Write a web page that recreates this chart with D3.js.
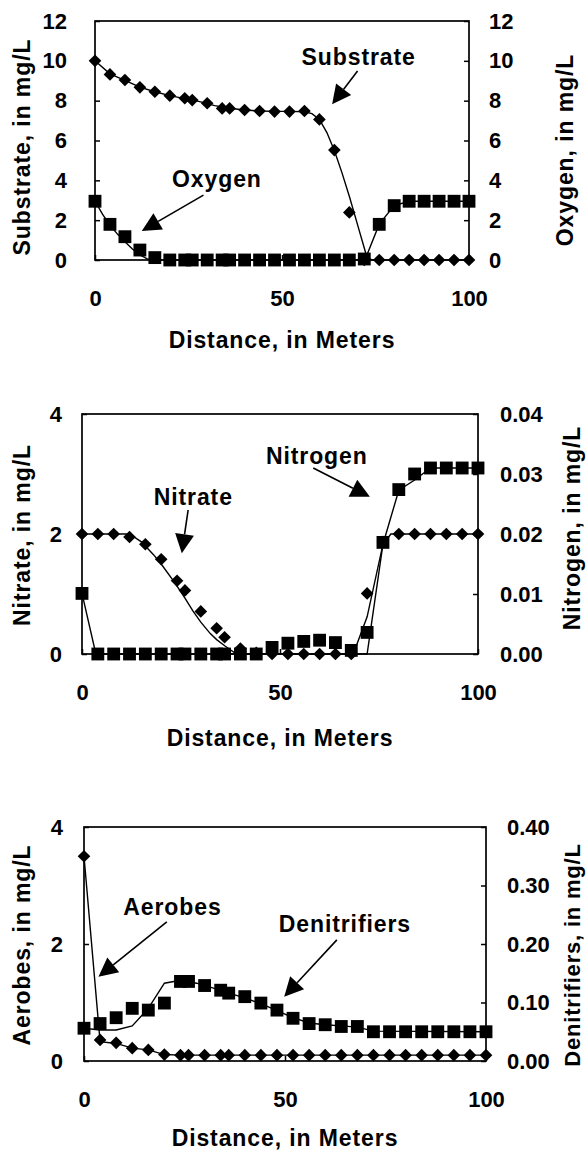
<!DOCTYPE html>
<html><head><meta charset="utf-8">
<script src="https://cdn.jsdelivr.net/npm/d3@7"></script>
<style>
body{margin:0;background:#fff}
svg{display:block;background:#fff}
text{font-family:"Liberation Sans",Arial,Helvetica,sans-serif;font-weight:bold;fill:#000}
</style>
</head><body>
<svg id="chart" width="587" height="1159"></svg>
<script>
// ---------- shared ----------
const distance = [0,4,8,12,16,20,24,26,30,34,36,40,44,48,52,56,60,64,68,72,76,80,84,88,92,96,100];
const xTicks = [0,50,100];
const xTitle = "Distance, in Meters";

// ---------- panel 1 : substrate / oxygen ----------
const substrateObs = [10,9.32,9.04,8.67,8.45,8.25,8.12,8.03,7.87,7.61,7.61,7.53,7.48,7.45,7.45,7.48,7.06,5.52,2.39,0,0,0,0,0,0,0,0];
const oxygenObs    = [2.95,1.79,1.17,0.5,0.12,0,0,0,0,0,0,0,0,0,0,0,0,0,0,0.05,1.79,2.73,2.95,2.95,2.95,2.95,2.95];
const substrateModelX = [0,4,8,12,16,20,24,28,32,36,40,44,48,52,56,58,60,62,64,66,68,70,72,72.6,74,100];
const substrateModelY = [10,9.35,9.02,8.68,8.45,8.25,8.1,7.95,7.75,7.62,7.53,7.48,7.46,7.46,7.44,7.35,7.06,6.4,5.5,4.4,3.2,1.9,0.6,0.2,0,0];
const oxygenModelX = [0,2,4,6,8,10,12,14,15,70,72.6,76,80,84,100];
const oxygenModelY = [2.95,2.3,1.75,1.3,0.92,0.55,0.25,0.06,0,0,0.2,1.8,2.73,2.95,2.95];
const p1LeftTicks = [0,2,4,6,8,10,12];
const p1RightTicks = [0,2,4,6,8,10,12];

// ---------- panel 2 : nitrate / nitrogen ----------
const nitrateObs  = [2,2,2,1.95,1.83,1.58,1.22,1.06,0.71,0.43,0.28,0.09,0.02,0,0,0,0,0,0,1.01,1.87,2,2,2,2,2,2];
const nitrogenObs = [0.0101,0,0,0,0,0,0,0,0,0,0,0,0,0.0011,0.0018,0.0021,0.0023,0.0019,0.0006,0.0036,0.0186,0.0274,0.030,0.031,0.031,0.031,0.031];
const nitrateModelX = [0,12,15,18,20,23.5,26,28,30,32.4,34,36.2,39,68.5,72,76,78,100];
const nitrateModelY = [2,2,1.87,1.66,1.5,1.18,0.93,0.72,0.53,0.34,0.24,0.13,0,0,0.62,1.83,2,2];
const nitrogenModelX = [0,3.5,72,76,80,84,88,100];
const nitrogenModelY = [0.0101,0,0,0.0183,0.0273,0.029,0.031,0.031];
const p2LeftTicks = [0,2,4];
const p2RightTicks = [0,0.01,0.02,0.03,0.04];

// ---------- panel 3 : aerobes / denitrifiers ----------
const aerobesObs = [3.5,0.36,0.31,0.22,0.19,0.11,0.1,0.1,0.1,0.1,0.1,0.1,0.1,0.1,0.1,0.1,0.1,0.1,0.1,0.1,0.1,0.1,0.1,0.1,0.1,0.1,0.1];
const denitrObs  = [0.056,0.064,0.074,0.090,0.087,0.099,0.136,0.136,0.129,0.121,0.116,0.110,0.099,0.087,0.073,0.064,0.062,0.059,0.059,0.050,0.050,0.050,0.050,0.050,0.050,0.050,0.050];
const aerobesModelX = [0,4,8,12,16,20,24,100];
const aerobesModelY = [3.5,0.33,0.3,0.22,0.19,0.11,0.1,0.1];
const denitrModelX = [0,4,8,12,16,20,24,28,32,36,40,44,48,52,56,60,64,68,72,100];
const denitrModelY = [0.056,0.053,0.053,0.06,0.09,0.133,0.138,0.133,0.125,0.116,0.108,0.098,0.086,0.074,0.065,0.062,0.06,0.058,0.051,0.05];
const p3LeftTicks = [0,2,4];
const p3RightTicks = [0,0.1,0.2,0.3,0.4];

// annotations (in data units of the left axis): label, text x, text y, arrow from, arrow to
const p1Notes = [
  {label:"Substrate", tx:70.5, ty:9.79, x1:70.2, y1:9.49, x2:63.4, y2:7.82},
  {label:"Oxygen",    tx:32.6, ty:3.68, x1:29.0, y1:3.26, x2:12.5, y2:1.46}
];
const p2Notes = [
  {label:"Nitrogen", tx:59.3, ty:3.16, x1:58.4, y1:3.10, x2:72.7, y2:2.62},
  {label:"Nitrate",  tx:28.1, ty:2.48, x1:26.8, y1:2.40, x2:25.2, y2:1.68}
];
const p3Notes = [
  {label:"Aerobes",      tx:22.0, ty:2.50, x1:20.6, y1:2.38, x2:3.6,  y2:1.44},
  {label:"Denitrifiers", tx:64.9, ty:2.21, x1:62.9, y1:2.07, x2:49.8, y2:1.10}
];

// ---------- drawing ----------
const svg = d3.select("#chart");

function drawPanel(cfg){
  const x = d3.scaleLinear().domain([0,100]).range([cfg.left, cfg.right]);
  const yL = d3.scaleLinear().domain(cfg.leftDomain).range([cfg.bottom, cfg.top]);
  const yR = d3.scaleLinear().domain(cfg.rightDomain).range([cfg.bottom, cfg.top]);
  const g = svg.append("g");

  g.append("rect").attr("x",cfg.left).attr("y",cfg.top)
    .attr("width",cfg.right-cfg.left).attr("height",cfg.bottom-cfg.top)
    .attr("fill","none").attr("stroke","#000").attr("stroke-width",1.7);

  const styleAxis = (sel, fs) => {
    sel.select(".domain").remove();
    sel.selectAll(".tick line").attr("stroke","#000").attr("stroke-width",1.5);
    sel.selectAll(".tick text").attr("font-size",fs).attr("font-family",'"Liberation Sans",Arial,sans-serif')
      .attr("font-weight","bold").attr("fill","#000");
  };

  g.append("g").attr("transform",`translate(${cfg.left},0)`)
    .call(d3.axisLeft(yL).tickValues(cfg.leftTicks).tickSize(-5).tickPadding(cfg.leftPad).tickFormat(d3.format("d")))
    .call(s=>styleAxis(s,cfg.tickFont));
  g.append("g").attr("transform",`translate(${cfg.right},0)`)
    .call(d3.axisRight(yR).tickValues(cfg.rightTicks).tickSize(-5).tickPadding(cfg.rightPad).tickFormat(d3.format(cfg.rightFmt)))
    .call(s=>styleAxis(s,cfg.tickFont));
  g.append("g").attr("transform",`translate(0,${cfg.bottom})`)
    .call(d3.axisBottom(x).tickValues(xTicks).tickSize(-5).tickPadding(cfg.bottomPad).tickFormat(d3.format("d")))
    .call(s=>styleAxis(s,cfg.tickFont));

  g.append("text").attr("x", (cfg.left+cfg.right)/2).attr("y", cfg.xTitleY)
    .attr("text-anchor","middle").attr("font-size",23).attr("letter-spacing","0.9px").text(xTitle);
  g.append("text").attr("transform",`translate(${cfg.leftTitleX},${cfg.leftTitleY}) rotate(-90)`)
    .attr("text-anchor","middle").attr("font-size",23).attr("letter-spacing","0.9px").text(cfg.leftTitle);
  g.append("text").attr("transform",`translate(${cfg.rightTitleX},${cfg.rightTitleY}) rotate(-90)`)
    .attr("text-anchor","middle").attr("font-size",cfg.rightTitleFont||23).attr("letter-spacing",cfg.rightTitleLs||"0.9px").text(cfg.rightTitle);

  const lineL = d3.line().x(d=>x(d[0])).y(d=>yL(d[1]));
  const lineR = d3.line().x(d=>x(d[0])).y(d=>yR(d[1]));
  g.append("path").datum(d3.zip(cfg.lModelX, cfg.lModelY)).attr("d",lineL)
    .attr("fill","none").attr("stroke","#000").attr("stroke-width",1.4);
  g.append("path").datum(d3.zip(cfg.rModelX, cfg.rModelY)).attr("d",cfg.rOnLeft?lineL:lineR)
    .attr("fill","none").attr("stroke","#000").attr("stroke-width",1.4);

  const sq = d3.symbol(d3.symbolSquare, 165)();
  const dm = d3.symbol(d3.symbolSquare, 80)();
  const yRm = cfg.rOnLeft ? yL : yR;
  g.append("g").selectAll("path").data(d3.zip(distance, cfg.squareObs)).join("path")
    .attr("d",sq).attr("transform",d=>`translate(${x(d[0])},${yRm(d[1])})`).attr("fill","#000");
  g.append("g").selectAll("path").data(d3.zip(distance, cfg.diamondObs)).join("path")
    .attr("d",dm).attr("transform",d=>`translate(${x(d[0])},${yL(d[1])}) rotate(45)`).attr("fill","#000");

  cfg.notes.forEach(n=>{
    g.append("text").attr("x",x(n.tx)).attr("y",yL(n.ty)).attr("text-anchor","middle")
      .attr("font-size",23).attr("letter-spacing","0.9px").text(n.label);
    const X1=x(n.x1), Y1=yL(n.y1), X2=x(n.x2), Y2=yL(n.y2);
    const dx=X2-X1, dy=Y2-Y1, L=Math.hypot(dx,dy), ux=dx/L, uy=dy/L;
    const hl=19, hw=9.5;
    const bx=X2-ux*hl, by=Y2-uy*hl;
    g.append("line").attr("x1",X1).attr("y1",Y1).attr("x2",bx).attr("y2",by)
      .attr("stroke","#000").attr("stroke-width",1.6);
    g.append("path").attr("d",`M${X2},${Y2}L${bx-uy*hw},${by+ux*hw}L${bx+uy*hw},${by-ux*hw}Z`).attr("fill","#000");
  });
}

drawPanel({left:95,right:469,top:21,bottom:260,leftDomain:[0,12],rightDomain:[0,12],
  leftTicks:p1LeftTicks,rightTicks:p1RightTicks,rightFmt:"d",leftPad:28,rightPad:20,bottomPad:30,tickFont:22,
  xTitleY:348,leftTitle:"Substrate, in mg/L",leftTitleX:30,leftTitleY:147,
  rightTitle:"Oxygen, in mg/L",rightTitleX:573,rightTitleY:150,
  lModelX:substrateModelX,lModelY:substrateModelY,rModelX:oxygenModelX,rModelY:oxygenModelY,rOnLeft:true,
  squareObs:oxygenObs,diamondObs:substrateObs,notes:p1Notes});

drawPanel({left:82,right:478,top:414,bottom:654,leftDomain:[0,4],rightDomain:[0,0.04],
  leftTicks:p2LeftTicks,rightTicks:p2RightTicks,rightFmt:".2f",leftPad:20,rightPad:22,bottomPad:30,tickFont:22,
  xTitleY:746,leftTitle:"Nitrate, in mg/L",leftTitleX:30,leftTitleY:535,
  rightTitle:"Nitrogen, in mg/L",rightTitleX:580,rightTitleY:528,
  lModelX:nitrateModelX,lModelY:nitrateModelY,rModelX:nitrogenModelX,rModelY:nitrogenModelY,rOnLeft:false,
  squareObs:nitrogenObs,diamondObs:nitrateObs,notes:p2Notes});

drawPanel({left:84,right:486,top:827,bottom:1061,leftDomain:[0,4],rightDomain:[0,0.4],
  leftTicks:p3LeftTicks,rightTicks:p3RightTicks,rightFmt:".2f",leftPad:21,rightPad:21,bottomPad:30,tickFont:22,
  xTitleY:1146,leftTitle:"Aerobes, in mg/L",leftTitleX:30,leftTitleY:945,
  rightTitle:"Denitrifiers, in mg/L",rightTitleX:580,rightTitleY:955,rightTitleFont:22,rightTitleLs:"0.8px",
  lModelX:aerobesModelX,lModelY:aerobesModelY,rModelX:denitrModelX,rModelY:denitrModelY,rOnLeft:false,
  squareObs:denitrObs,diamondObs:aerobesObs,notes:p3Notes});
</script>
</body></html>
